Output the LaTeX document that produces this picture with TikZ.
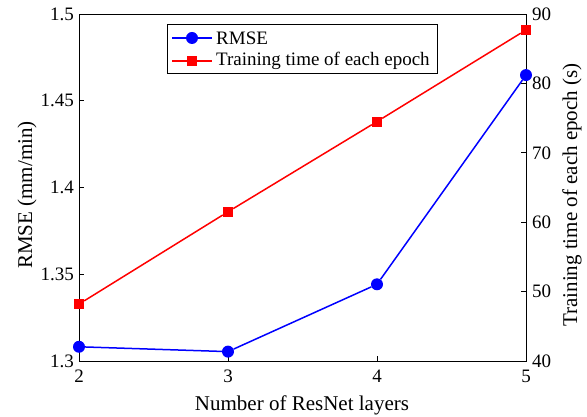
\documentclass[tikz,border=0pt]{standalone}
\usepackage{fontspec}
\setmainfont{Liberation Serif}
\tikzset{
  ticklab/.style={font=\fontsize{19}{22}\selectfont, inner sep=2pt},
  axlab/.style={font=\fontsize{21}{24}\selectfont},
  leglab/.style={font=\fontsize{19}{22}\selectfont, anchor=west, inner sep=0pt},
  rmse/.style={blue, line width=1.5pt},
  rmsemark/.style={circle, fill=blue, inner sep=0pt, minimum size=12pt},
  ttime/.style={red, line width=1.5pt},
  ttimemark/.style={rectangle, fill=red, inner sep=0pt, minimum size=10pt},
}

\begin{document}
\begin{tikzpicture}[x=1pt,y=1pt]
  \useasboundingbox (0,0) rectangle (587,417);
  % axes box
  \coordinate(ll) at (79,56);
  \coordinate(ur) at (526,403);
  \draw[line width=0.8pt] (ll) rectangle (ur);
  % left axis, RMSE
  \foreach \v/\lab in {0/1.3,1/1.35,2/1.4,3/1.45,4/1.5}{
    \draw[line width=0.6pt] (79,56+\v*86.75) -- ++(5,0);
    \node[ticklab, anchor=east] (yl\v) at (76,56+\v*86.75) {\lab};
  }
  % right axis, training time
  \foreach \v/\lab in {0/40,1/50,2/60,3/70,4/80,5/90}{
    \draw[line width=0.6pt] (526,56+\v*69.4) -- ++(-5,0);
    \node[ticklab, anchor=west] (yr\v) at (530,56+\v*69.4) {\lab};
  }
  % x axis
  \foreach \n in {2,3,4,5}{
    \draw[line width=0.6pt] (79+\n*149-298,56) -- ++(0,5);
    \node[ticklab] (x\n) at (79+\n*149-298,41) {\n};
  }
  \node[axlab] (xlab) at (302,12) {Number of ResNet layers};
  \node[axlab, rotate=90] (ylab) at (27,222) {RMSE (mm/min)};
  \node[axlab, rotate=90] (tlab) at (572,222) {Training time of each epoch (s)};
  % RMSE data
  \begin{scope}[shift={(79,56)}, x=149pt, y=1735pt]
    \node[rmsemark] (b2) at (0,0.0082){};
    \node[rmsemark] (b3) at (1,0.0054){};
    \node[rmsemark] (b4) at (2,0.0442){};
    \node[rmsemark] (b5) at (3,0.1648){};
  \end{scope}
  \draw[rmse] (b2)--(b3)--(b4)--(b5);
  % training time data
  \begin{scope}[shift={(79,56)}, x=149pt, y=6.94pt]
    \node[ttimemark] (r2) at (0,8.2){};
    \node[ttimemark] (r3) at (1,21.5){};
    \node[ttimemark] (r4) at (2,34.5){};
    \node[ttimemark] (r5) at (3,47.7){};
  \end{scope}
  \draw[ttime] (r2)--(r3)--(r4)--(r5);
  % legend
  \draw[line width=0.8pt, fill=white] (167,344) rectangle (437,393);
  \coordinate(la) at (172,379);
  \coordinate(lb) at (212,379);
  \coordinate(lc) at (172,356);
  \coordinate(ld) at (212,356);
  \draw[rmse] (la)--(lb);
  \node[rmsemark] (lm1) at (192,379){};
  \draw[ttime] (lc)--(ld);
  \node[ttimemark] (lm2) at (192,356){};
  \node[leglab] (lt1) at (216,379) {RMSE};
  \node[leglab] (lt2) at (216,356) {Training time of each epoch};
\end{tikzpicture}
\end{document}
